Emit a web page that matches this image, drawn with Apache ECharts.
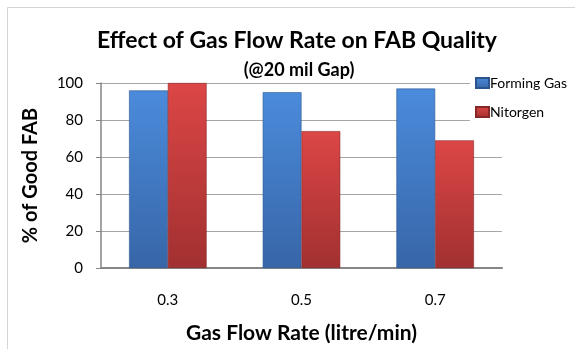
<!DOCTYPE html>
<html>
<head>
<meta charset="utf-8">
<style>
  html, body { margin: 0; padding: 0; background: #fff; }
  #chart { width: 575px; height: 349px; }
</style>
<script src="https://cdn.jsdelivr.net/npm/echarts@6/dist/echarts.min.js"></script>
</head>
<body>
<div id="chart"></div>
<script>
// Gas flow rates (litre/min) on the x axis
const flowRates = ['0.3', '0.5', '0.7'];
// Percentage of good free-air balls per gas type
const formingGas = [96, 95, 97];
const nitrogen = [100, 74, 69];
const yTicks = [0, 20, 40, 60, 80, 100];

const FONT = 'Lato, "Open Sans", sans-serif';

// Vertical shading: lighter at the top, darker toward the base
function barGradient(top, bottom) {
  return new echarts.graphic.LinearGradient(0, 0, 0, 1, [
    { offset: 0, color: top },
    { offset: 1, color: bottom }
  ]);
}

const chart = echarts.init(document.getElementById('chart'), null, { renderer: 'canvas' });

chart.setOption({
  backgroundColor: '#ffffff',
  animation: false,
  graphic: [{
    type: 'rect',
    shape: { x: 7.5, y: 7.5, width: 600, height: 400 },
    style: { fill: 'none', stroke: '#d4d4d4', lineWidth: 1 },
    silent: true,
    z: -1
  }],
  title: [{
    text: 'Effect of Gas Flow Rate on FAB Quality',
    left: 292, top: 24, textAlign: 'center',
    textStyle: { fontFamily: FONT, fontWeight: 'bold', fontSize: 23, color: '#000' }
  }, {
    text: '(@20 mil Gap)',
    left: 294, top: 56, textAlign: 'center',
    textStyle: { fontFamily: FONT, fontWeight: 'bold', fontSize: 18, color: '#000' }
  }],
  legend: {
    orient: 'vertical',
    left: 470, top: 71,
    padding: [5, 5, 16, 5],
    backgroundColor: '#ffffff',
    itemWidth: 13, itemHeight: 10, itemGap: 15,
    icon: 'rect',
    textStyle: { fontFamily: FONT, fontSize: 14, color: '#000', padding: [0, 0, 0, -4] },
    data: ['Forming Gas', 'Nitorgen']
  },
  grid: { left: 101, right: 73, top: 83, bottom: 81 },
  xAxis: {
    type: 'category',
    data: flowRates,
    name: 'Gas Flow Rate (litre/min)',
    nameLocation: 'middle',
    nameGap: 55,
    nameTextStyle: { fontFamily: FONT, fontWeight: 'bold', fontSize: 21, color: '#000' },
    axisLine: { lineStyle: { color: '#868686', width: 2 } },
    axisTick: { show: false },
    axisLabel: { margin: 25, fontFamily: FONT, fontSize: 15, color: '#000' }
  },
  yAxis: {
    type: 'value',
    min: yTicks[0], max: yTicks[yTicks.length - 1], interval: 20,
    name: '% of Good FAB',
    nameLocation: 'middle',
    nameGap: 60,
    nameTextStyle: { fontFamily: FONT, fontWeight: 'bold', fontSize: 20, color: '#000' },
    axisLine: { show: true, lineStyle: { color: '#868686', width: 1.5 } },
    axisTick: { show: true, inside: false, length: 5, lineStyle: { color: '#868686' } },
    axisLabel: { margin: 18, fontFamily: FONT, fontSize: 15, color: '#000' },
    splitLine: { lineStyle: { color: '#a6a6a6', width: 1 } }
  },
  series: [{
    name: 'Forming Gas',
    type: 'bar',
    data: formingGas,
    barGap: '0%',
    barCategoryGap: '42%',
    itemStyle: {
      color: barGradient('#4b8bdb', '#3766a8'),
      borderColor: '#2c5590', borderWidth: 0.6
    }
  }, {
    name: 'Nitorgen',
    type: 'bar',
    data: nitrogen,
    itemStyle: {
      color: barGradient('#dc4646', '#a23030'),
      borderColor: '#862626', borderWidth: 0.6
    }
  }]
});
</script>
</body>
</html>
